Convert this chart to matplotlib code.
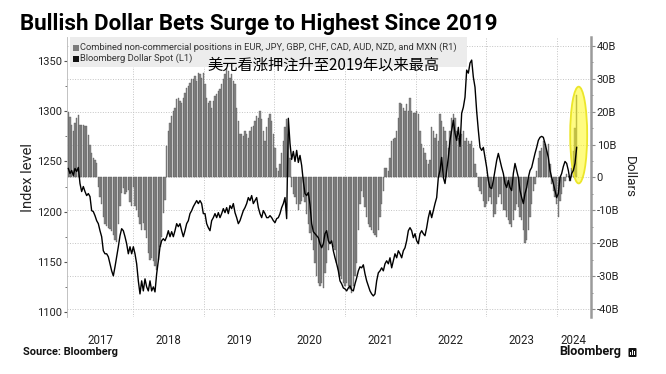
import numpy as np
import matplotlib
matplotlib.use("Agg")
import matplotlib.pyplot as plt
from matplotlib.patches import Ellipse, Rectangle, FancyBboxPatch
from matplotlib.ticker import FixedLocator, FixedFormatter, MultipleLocator, FuncFormatter
from matplotlib import font_manager as fm

# ---------------- data ----------------
title = "Bullish Dollar Bets Surge to Highest Since 2019"
subtitle_cn = "美元看涨押注升至2019年以来最高"
bar_label = "Combined non-commercial positions in EUR, JPY, GBP, CHF, CAD, AUD, NZD, and MXN (R1)"
line_label = "Bloomberg Dollar Spot (L1)"
source = "Source: Bloomberg"
left_axis_label = "Index level"
right_axis_label = "Dollars"

first_date = 2017.079   # decimal year of first observation
last_date = 2024.283    # decimal year of last observation
view_start = 2017.056
view_end = 2024.486

year_labels = [2017, 2018, 2019, 2020, 2021, 2022, 2023, 2024]
left_ticks = [1100, 1150, 1200, 1250, 1300, 1350]
right_ticks = [-40, -30, -20, -10, 0, 10, 20, 30, 40]

# net positions, billions of dollars (R1)
positions_bn = [
    20, 18.5, 16, 14, 16.5, 18, 19, 16, 16, 16, 15.8, 15.5, 13, 10, 7.5, 5.9, 5.3, 4.4,
    -3, -6, -8, -11.9, -14, -14.8, -15.3, -15.8, -16.2, -17.4, -19, -19.5, -14, -8.8,
    -4.7, -3.2, -5, -4.5, -3.8, -7.5, -8.8, -2.8, -8.8, -9.8, -12, -14, -15.9, -13.8,
    -16, -18.5, -23, -25, -24.5, -25.5, -27, -28, -25, -21, -18, -10.8, -6.8,
    9.7, 14, 16.7, 18.8, 20.3, 21.2, 23.9, 24.2, 23.3, 22.7,
    24.2, 25.8, 27.3, 27.9, 28.8, 30, 30, 30.9, 29.4, 31.8,
    31.5, 30.3, 31.8, 28.5, 24.2, 22.7, 23.3, 21.2, 23.3, 24.8,
    25.5, 26.4, 27, 28.5, 30, 31.5, 33.3, 32.4, 30.3, 31.5,
    29.4, 28.5, 21.2, 17.3, 13.3, 13.3, 12.7, 14.2, 13.3, 12.1,
    14.2, 15.2, 15.8, 17.3, 18.8, 18.2, 20.3, 17.9, 14.2, 11.2,
    15.2, 18.2, 19.4, 17.3, 13.3, 9.1, 3, 2.1, 4.2, 7.3,
    11.2, 15.2, 17.9, 13.3, 6, -3, -5, -6, -8, -10,
    -8, -7, -6, -7.5, -11, -14, -17, -19, -22, -26,
    -30, -32, -33, -32, -33.6, -29, -26, -22, -20, -19,
    -21, -22, -26, -28, -30, -31, -32, -33, -32, -33,
    -34, -35, -33, -30, -26, -16, -8,
    -4, -6, -9, -12, -14, -15, -16, -17, -17.6, -18,
    -16, -12, -8, -4, 3, 3, 2, 6, 11, 11.8,
    12.1, 14.2, 18.2, 22.7, 22.4, 21.2, 20.3, 22.4, 20.3, 24.2,
    20.3, 19.7, 19.7, 20.3, 19.4, 14.2, 10.3, 9.1, 7.3, 5.2,
    4.2, 5.2, 15.2, 14.2, 12.1, 13.3, 11.2, 19.4, 17.3, 15.2,
    14.2, 11.2, 9.1, 14.2, 18.2, 19.4, 18.2, 14.2, 12.1, 12.1,
    13.3, 14.2, 11.2, 12.1, 11.2, 10.3, 11.2, 9.1, 4.2, 1.5,
    -3, -4, -5, -7, -9, -8, -7, -6, -8, -12,
    -11, -8, -6, -5, -8, -10, -10, -12, -13, -14,
    -15, -13, -10, -8, -9, -12, -13, -16, -20, -19,
    -16, -12, -8, -4, -2, 2, 6, 8.2, 9.1, 11.2,
    10.3, 8.2, 10.3, 4.2, -2, -4, -6, -8, -12, -7,
    -5, -3, -1, 1, 0.5, -1, 3, 8, 15, 25,
]

# Bloomberg Dollar Spot index (L1)
dollar_index = [
    1243, 1238, 1241, 1236, 1243, 1240, 1244, 1228, 1220, 1225,
    1220, 1216, 1218, 1215, 1201, 1200, 1196, 1191, 1188, 1181,
    1175, 1161, 1158, 1158, 1155, 1148, 1141, 1136, 1145, 1155,
    1165, 1176, 1183, 1181, 1175, 1168, 1158, 1165, 1158, 1165,
    1158, 1148, 1131, 1118, 1131, 1121, 1133, 1125, 1121, 1131,
    1121, 1125, 1120, 1138, 1151, 1165, 1171, 1173, 1171, 1175,
    1181, 1175, 1180, 1175, 1181, 1188, 1185, 1188, 1181, 1175,
    1181, 1188, 1191, 1198, 1201, 1205, 1208, 1211, 1208, 1211,
    1208, 1198,
    1198, 1188, 1184, 1181, 1191, 1194, 1198, 1194, 1199, 1194,
    1198, 1203, 1199, 1204, 1198, 1206, 1203, 1208, 1199, 1194,
    1188, 1191, 1196, 1201, 1204, 1208, 1214, 1211, 1216, 1208,
    1211, 1214, 1204, 1198, 1194, 1201, 1198, 1194, 1194, 1196,
    1194, 1191, 1189, 1193, 1194, 1198, 1204, 1208, 1214, 1193,
    1293, 1268, 1252, 1260, 1250, 1261, 1249, 1256, 1246, 1230,
    1218, 1216, 1219, 1207, 1188, 1180, 1178, 1176, 1174, 1168,
    1164, 1168, 1178, 1181, 1171, 1168, 1171, 1161, 1154, 1148,
    1141, 1131, 1128, 1124, 1123, 1121, 1124, 1126, 1122, 1121,
    1128, 1134, 1141, 1145,
    1144, 1147, 1138, 1131, 1126, 1121, 1118, 1116, 1118, 1131,
    1139, 1141, 1144, 1141, 1148, 1151, 1148, 1154, 1144, 1151,
    1158, 1154, 1161, 1158, 1154, 1161, 1164, 1171, 1181, 1184,
    1181, 1174, 1178, 1171, 1168, 1178, 1181, 1178, 1176, 1184,
    1194, 1201, 1194, 1201, 1208, 1214, 1234, 1241, 1254, 1234,
    1228, 1241, 1254, 1271, 1281, 1291, 1278, 1271, 1284, 1265,
    1298, 1304, 1314, 1341, 1338, 1348, 1351, 1334, 1324, 1300,
    1281, 1264, 1261, 1264, 1254, 1244, 1231, 1224, 1223, 1231,
    1241, 1251, 1258, 1251, 1244, 1238, 1228, 1224, 1231, 1224,
    1221, 1238, 1248, 1241, 1234, 1221, 1214, 1208, 1218, 1224,
    1234, 1241, 1244, 1251, 1258, 1264, 1271, 1274, 1275, 1274,
    1268, 1261, 1254, 1241, 1234, 1228, 1221, 1214, 1218, 1234,
    1238, 1245, 1250, 1248, 1241, 1231, 1238, 1241, 1248, 1264,
]

dates = np.linspace(first_date, last_date, len(positions_bn))

# ---------------- fonts ----------------
names = {f.name for f in fm.fontManager.ttflist}
def pick(*cands):
    for c in cands:
        if c in names:
            return c
    return "DejaVu Sans"
UI = pick("Roboto", "Open Sans", "Liberation Sans")
CJK = pick("Noto Sans CJK SC", "Noto Sans CJK JP")
plt.rcParams["font.family"] = [UI, "DejaVu Sans"]
plt.rcParams["axes.unicode_minus"] = False

# ---------------- layout helpers ----------------
W, H = 666, 374
fig = plt.figure(figsize=(W / 100, H / 100), dpi=100)
fig.patch.set_facecolor("white")
def fx(px):
    return px / W
def fy(py):
    return 1 - py / H

AX_L, AX_R, AX_T, AX_B = 66.7, 591.0, 37.0, 317.0
ax = fig.add_axes([fx(AX_L), fy(AX_B), fx(AX_R) - fx(AX_L), fy(AX_T) - fy(AX_B)])
ax.set_facecolor("white")
ax2 = ax.twinx()   # line axis (left scale); bars stay on ax (right scale)

# ---- bars (right axis) ----
step = dates[1] - dates[0]
ax.bar(dates, positions_bn, width=step * 0.78, color="#8a8a8a",
       edgecolor="#505050", linewidth=0.25, zorder=2)
ax.set_xlim(view_start, view_end)
ax.set_ylim(-42.4, 42.7)
ax.yaxis.tick_right()
ax.yaxis.set_label_position("right")
ax.yaxis.set_major_locator(FixedLocator(right_ticks))
ax.yaxis.set_minor_locator(MultipleLocator(5))
ax.yaxis.set_major_formatter(FuncFormatter(lambda v, p: "0" if v == 0 else ("%dB" % v)))
ax.tick_params(axis="y", which="major", length=2.8, width=0.8, color="#8c8c8c",
               pad=1.2, labelsize=8, labelcolor="#222222")
ax.tick_params(axis="y", which="minor", length=1.6, width=0.7, color="#8c8c8c")

# year gridlines + centred year labels
ax.xaxis.set_major_locator(FixedLocator(year_labels[1:]))
mids = [(max(y, view_start) + min(y + 1, view_end)) / 2 for y in year_labels]
ax.xaxis.set_minor_locator(FixedLocator(mids))
ax.xaxis.set_minor_formatter(FixedFormatter([str(y) for y in year_labels]))
ax.tick_params(axis="x", which="major", length=0, labelbottom=False)
ax.tick_params(axis="x", which="minor", length=0, pad=12, labelsize=8.3,
               labelcolor="#222222")
ax.grid(True, which="major", axis="both", linestyle=(0, (1, 1.6)),
        color="#c4c4c4", linewidth=0.7)
ax.set_axisbelow(True)

for s in ["top", "bottom", "left"]:
    ax.spines[s].set_visible(False)
ax.spines["right"].set_color("#9a9a9a")
ax.spines["right"].set_linewidth(1.8)

# highlight ellipse around the latest surge (derived from the data)
hl_top = positions_bn[-1] + 2.6
hl_bot = -1.8
ax.add_patch(Ellipse((dates[-1] + step * 1.2, (hl_top + hl_bot) / 2),
                     width=step * 10.2, height=hl_top - hl_bot,
                     facecolor=(1.0, 0.98, 0.1, 0.55), edgecolor="#ece62a",
                     linewidth=1.3, zorder=3))

# ---- line (left axis) ----
ax2.plot(dates, dollar_index, color="black", linewidth=1.0, zorder=4)
ax2.set_xlim(view_start, view_end)
ax2.set_ylim(1095, 1374)
ax2.yaxis.tick_left()
ax2.yaxis.set_label_position("left")
ax2.yaxis.set_major_locator(FixedLocator(left_ticks))
ax2.yaxis.set_minor_locator(MultipleLocator(25))
ax2.tick_params(axis="y", which="major", length=2.2, width=0.8, color="#555555",
                pad=1.0, labelsize=8, labelcolor="#222222")
ax2.tick_params(axis="y", which="minor", length=1.4, width=0.7, color="#777777")
ax2.tick_params(axis="x", which="both", bottom=False, labelbottom=False)
for s in ["top", "bottom", "right"]:
    ax2.spines[s].set_visible(False)
ax2.spines["left"].set_color("#b8b8b8")
ax2.spines["left"].set_linewidth(0.6)

# ---------------- texts ----------------
def fit(t, target_w, use_height=False):
    r = fig.canvas.get_renderer()
    for _ in range(3):
        bb = t.get_window_extent(renderer=r)
        w = bb.height if use_height else bb.width
        if w > 0:
            t.set_fontsize(t.get_fontsize() * target_w / w)

fig.canvas.draw()

t_title = fig.text(fx(20), fy(30), title, fontweight="bold", fontsize=14,
                   ha="left", va="baseline", color="#000000")
fit(t_title, 477)

# legend box
fig.add_artist(Rectangle((fx(70), fy(67)), fx(467) - fx(70), (67 - 37) / H,
                         transform=fig.transFigure, facecolor="#ececec",
                         edgecolor="none", zorder=5))
fig.add_artist(Rectangle((fx(73), fy(50.5)), 5.5 / W, 5.5 / H,
                         transform=fig.transFigure, facecolor="#7c7c7c",
                         edgecolor="none", zorder=6))
fig.add_artist(Rectangle((fx(73), fy(61.5)), 5.5 / W, 5.5 / H,
                         transform=fig.transFigure, facecolor="#111111",
                         edgecolor="none", zorder=6))
t_leg1 = fig.text(fx(80.5), fy(47.5), bar_label, fontsize=7, ha="left", va="center",
                  color="#333333", zorder=7)
fit(t_leg1, 380)
t_leg2 = fig.text(fx(80.5), fy(58.5), line_label, fontsize=t_leg1.get_fontsize(),
                  ha="left", va="center", color="#333333", zorder=7)

t_cn = fig.text(fx(207), fy(65), subtitle_cn, fontsize=10, ha="left", va="center",
                color="#000000", family=[CJK, "DejaVu Sans"], zorder=8)
fit(t_cn, 233)

t_il = fig.text(fx(28), fy(177.5), left_axis_label, rotation=90, ha="center",
                va="center", fontsize=10, color="#222222")
fit(t_il, 69, use_height=True)

t_dl = fig.text(fx(629.5), fy(177.5), right_axis_label, rotation=270, ha="center",
                va="center", fontsize=10, color="#222222")
fit(t_dl, 42, use_height=True)

t_src = fig.text(fx(23), fy(352), source, fontweight="bold", fontsize=7,
                 ha="left", va="center", color="#111111")
fit(t_src, 95)

t_bb = fig.text(fx(559), fy(352), "Bloomberg", fontweight="bold", fontsize=9,
                ha="left", va="center", color="#111111")
fit(t_bb, 62)

# Bloomberg logo mark
fig.add_artist(FancyBboxPatch((fx(628.5), fy(357)), 8 / W, 9 / H,
                              boxstyle="round,pad=0,rounding_size=0.002",
                              transform=fig.transFigure, facecolor="#111111",
                              edgecolor="none", zorder=6))
for bx, bh in [(630.3, 3), (632.3, 5), (634.3, 4)]:
    fig.add_artist(Rectangle((fx(bx), fy(354.5)), 1.2 / W, bh / H,
                             transform=fig.transFigure, facecolor="white",
                             edgecolor="none", zorder=7))

fig.savefig("out.png", dpi=100, facecolor="white")
